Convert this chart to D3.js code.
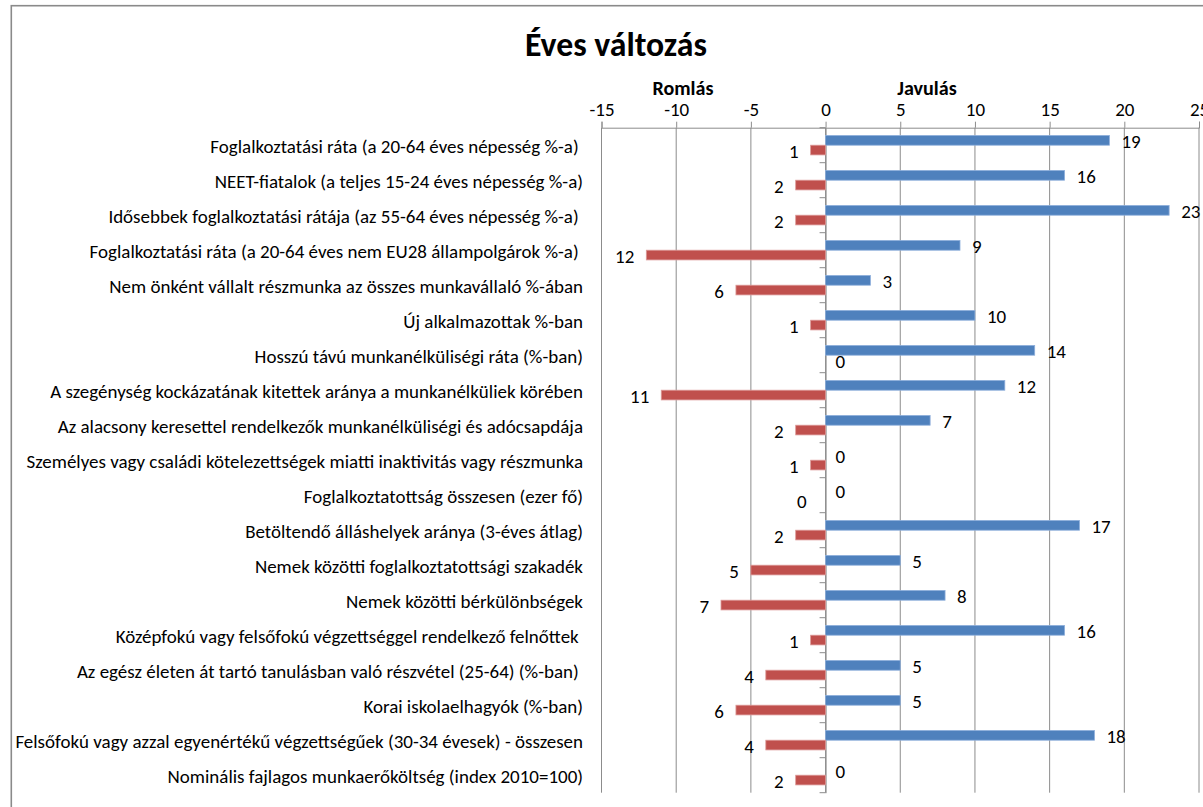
<!DOCTYPE html>
<html>
<head>
<meta charset="utf-8">
<script src="https://cdn.jsdelivr.net/npm/d3@7"></script>
<style>
  html, body { margin: 0; padding: 0; background: #fff; }
  svg text { font-family: Carlito, Calibri, Lato, sans-serif; fill: #000; white-space: pre; }
</style>
</head>
<body>
<svg id="chart" width="1203" height="807"></svg>
<script>
const categories = [
  "Foglalkoztatási ráta (a 20-64 éves népesség %-a) ",
  "NEET-fiatalok (a teljes 15-24 éves népesség %-a)",
  "Idősebbek foglalkoztatási rátája (az 55-64 éves népesség %-a) ",
  "Foglalkoztatási ráta (a 20-64 éves nem EU28 állampolgárok %-a) ",
  "Nem önként vállalt részmunka az összes munkavállaló %-ában",
  "Új alkalmazottak %-ban",
  "Hosszú távú munkanélküliségi ráta (%-ban)",
  "A szegénység kockázatának kitettek aránya a munkanélküliek körében",
  "Az alacsony keresettel rendelkezők munkanélküliségi és adócsapdája",
  "Személyes vagy családi kötelezettségek miatti inaktivitás vagy részmunka",
  "Foglalkoztatottság összesen (ezer fő)",
  "Betöltendő álláshelyek aránya (3-éves átlag)",
  "Nemek közötti foglalkoztatottsági szakadék",
  "Nemek közötti bérkülönbségek",
  "Középfokú vagy felsőfokú végzettséggel rendelkező felnőttek ",
  "Az egész életen át tartó tanulásban való részvétel (25-64) (%-ban) ",
  "Korai iskolaelhagyók (%-ban)",
  "Felsőfokú vagy azzal egyenértékű végzettségűek (30-34 évesek) - összesen",
  "Nominális fajlagos munkaerőköltség (index 2010=100)"
];
// Javulás (improvement) – positive
const javulas = [19, 16, 23, 9, 3, 10, 14, 12, 7, 0, 0, 17, 5, 8, 16, 5, 5, 18, 0];
// Romlás (deterioration) – plotted as negative; label shows magnitude
const romlas = [-1, -2, -2, -12, -6, -1, 0, -11, -2, -1, -0, -2, -5, -7, -1, -4, -6, -4, -2];
const tickValues = [-15, -10, -5, 0, 5, 10, 15, 20, 25];
const title = "Éves változás";
const leftTitle = "Romlás";
const rightTitle = "Javulás";

const svg = d3.select("#chart");
const plot = { left: 601.5, right: 1199, top: 127.7, bottom: 792.7 };

// fit helper: font size so that the widest text in selection equals target width
function fitSize(sel, base, target) {
  let w = 0;
  sel.each(function () { w = Math.max(w, this.getComputedTextLength()); });
  return w > 0 ? base * target / w : base;
}

// chart border
svg.append("rect")
  .attr("x", 11.3).attr("y", 5.7).attr("width", 1400).attr("height", 1000)
  .attr("fill", "none").attr("stroke", "#8a8a8a").attr("stroke-width", 1.6);

const x = d3.scaleLinear().domain([-15, 25]).range([plot.left, plot.right]);
const y = d3.scaleBand().domain(categories).range([plot.top, plot.bottom]).padding(0);
const sub = d3.scaleBand().domain(["jav", "rom"]).range([0, y.bandwidth()]).paddingInner(0).paddingOuter(0.8);

// category labels (measure first to get size factor)
const catLabels = svg.append("g").selectAll("text").data(categories).join("text")
  .attr("x", 583).attr("y", d => y(d) + y.bandwidth() / 2 + 1)
  .attr("text-anchor", "end").attr("dominant-baseline", "central")
  .attr("font-size", 15)
  .text(d => d);
const catSize = fitSize(catLabels, 15, 568);
catLabels.attr("font-size", catSize);
const k = catSize / 15;
const smallSize = 15 * k;

// gridlines
svg.append("g").selectAll("line").data(tickValues).join("line")
  .attr("x1", d => x(d)).attr("x2", d => x(d))
  .attr("y1", plot.top).attr("y2", plot.bottom)
  .attr("stroke", "#8c8c8c").attr("stroke-width", 1);

// top value axis
const xAxis = d3.axisTop(x).tickValues(tickValues).tickSize(6).tickPadding(6).tickFormat(d3.format("d"));
const gx = svg.append("g").attr("transform", `translate(0,${plot.top})`).call(xAxis);
gx.select(".domain").attr("stroke", "#8c8c8c").attr("stroke-width", 1);
gx.selectAll(".tick line").attr("stroke", "#8c8c8c");
gx.selectAll(".tick text").attr("font-size", smallSize).attr("fill", "#000")
  .style("font-family", "Carlito, Calibri, Lato, sans-serif")
  .text(d => d < 0 ? "-" + Math.abs(d) : d);

// category axis at zero
const yAxis = d3.axisLeft(y).tickSize(0).tickFormat("");
const gy = svg.append("g").attr("transform", `translate(${x(0)},0)`).call(yAxis);
gy.select(".domain").attr("stroke", "#8c8c8c").attr("stroke-width", 1);
const boundaries = d3.range(categories.length + 1).map(i => plot.top + i * y.step());
svg.append("g").selectAll("line").data(boundaries).join("line")
  .attr("x1", x(0) - 6).attr("x2", x(0))
  .attr("y1", d => d).attr("y2", d => d)
  .attr("stroke", "#8c8c8c").attr("stroke-width", 1);

const rows = categories.map((c, i) => ({ cat: c, jav: javulas[i], rom: romlas[i] }));

// bars
const bars = svg.append("g");
bars.selectAll("rect.jav").data(rows).join("rect").attr("class", "jav")
  .attr("x", d => x(Math.min(0, d.jav)))
  .attr("width", d => Math.abs(x(d.jav) - x(0)))
  .attr("y", d => y(d.cat) + sub("jav"))
  .attr("height", sub.bandwidth())
  .attr("fill", "#4F81BD").attr("stroke", d => d.jav === 0 ? "none" : "#8DAEDB").attr("stroke-width", 0.8);
bars.selectAll("rect.rom").data(rows).join("rect").attr("class", "rom")
  .attr("x", d => x(Math.min(0, d.rom)))
  .attr("width", d => Math.abs(x(d.rom) - x(0)))
  .attr("y", d => y(d.cat) + sub("rom"))
  .attr("height", sub.bandwidth())
  .attr("fill", "#C0504D").attr("stroke", d => d.rom === 0 ? "none" : "#DC9A98").attr("stroke-width", 0.8);

// data labels
const isNeg = v => v < 0 || Object.is(v, -0);
const labels = svg.append("g").attr("font-size", smallSize);
labels.selectAll("text.jav").data(rows).join("text").attr("class", "jav")
  .attr("x", d => isNeg(d.jav) ? x(d.jav) - 12 : x(d.jav) + (d.jav === 0 ? 10 : 12))
  .attr("text-anchor", d => isNeg(d.jav) ? "end" : "start")
  .attr("y", d => y(d.cat) + sub("jav") + sub.bandwidth() / 2 + 1)
  .attr("dominant-baseline", "central")
  .text(d => Math.abs(d.jav));
labels.selectAll("text.rom").data(rows).join("text").attr("class", "rom")
  .attr("x", d => isNeg(d.rom) ? x(d.rom) - (d.rom === 0 ? 19 : 12) : x(d.rom) + 10)
  .attr("text-anchor", d => isNeg(d.rom) ? "end" : "start")
  .attr("y", d => y(d.cat) + sub("rom") + sub.bandwidth() / 2 + 1)
  .attr("dominant-baseline", "central")
  .text(d => Math.abs(d.rom));

// titles
const t = svg.append("text").attr("x", 616).attr("y", 44)
  .attr("text-anchor", "middle").attr("dominant-baseline", "central")
  .attr("font-size", 28).attr("font-weight", "bold").text(title);
t.attr("font-size", fitSize(t, 28, 182));
const lt = svg.append("text").attr("x", 683).attr("y", 88)
  .attr("text-anchor", "middle").attr("dominant-baseline", "central")
  .attr("font-size", 17).attr("font-weight", "bold").text(leftTitle);
const axisTitleSize = fitSize(lt, 17, 61);
lt.attr("font-size", axisTitleSize);
svg.append("text").attr("x", 927).attr("y", 88)
  .attr("text-anchor", "middle").attr("dominant-baseline", "central")
  .attr("font-size", axisTitleSize).attr("font-weight", "bold").text(rightTitle);
</script>
</body>
</html>
